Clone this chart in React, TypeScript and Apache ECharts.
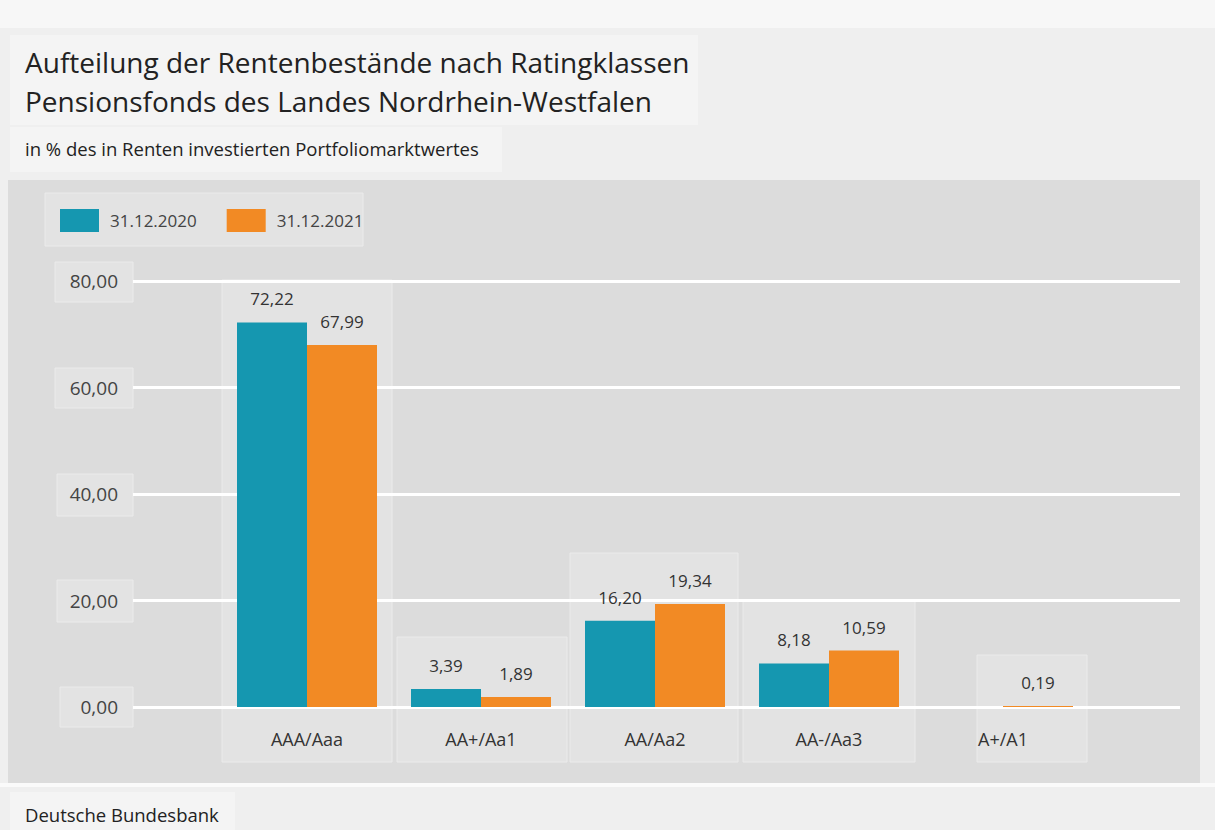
import React, { useEffect, useRef } from "react";
import * as echarts from "echarts";

const categories = ["AAA/Aaa", "AA+/Aa1", "AA/Aa2", "AA-/Aa3", "A+/A1"];
const series2020 = [72.22, 3.39, 16.2, 8.18, null];
const series2021 = [67.99, 1.89, 19.34, 10.59, 0.19];
const seriesNames = ["31.12.2020", "31.12.2021"];
const yTicks = [0, 20, 40, 60, 80];

const fmt = (v: number) => v.toFixed(2).replace(".", ",");
const FONT = "'Open Sans', 'Noto Sans', sans-serif";

const box = (x: number, y: number, w: number, h: number) => ({
  type: "rect",
  z: -5,
  shape: { x, y, width: w, height: h },
  style: { fill: "#e3e3e3", stroke: "#ebebeb", lineWidth: 1 },
});

export default function App() {
  const ref = useRef<HTMLDivElement>(null);
  useEffect(() => {
    document.body.style.margin = "0";
    const chart = echarts.init(ref.current!, null, { renderer: "svg" });
    const labelStyle = {
      show: true,
      position: "top" as const,
      distance: 15,
      fontSize: 17,
      color: "#333",
      fontFamily: FONT,
      formatter: (p: any) => (p.value == null ? "" : fmt(p.value)),
    };
    chart.setOption({
      animation: false,
      backgroundColor: "#efefef",
      textStyle: { fontFamily: FONT },
      graphic: [
        { type: "rect", z: -10, shape: { x: 0, y: 0, width: 1215, height: 28 }, style: { fill: "#f7f7f7" } },
        { type: "rect", z: -10, shape: { x: 10, y: 35, width: 688, height: 90 }, style: { fill: "#f4f4f4" } },
        { type: "rect", z: -10, shape: { x: 10, y: 127, width: 492, height: 45 }, style: { fill: "#f4f4f4" } },
        { type: "rect", z: -10, shape: { x: 8, y: 180, width: 1192, height: 603 }, style: { fill: "#dcdcdc" } },
        { type: "rect", z: -10, shape: { x: 0, y: 783, width: 1215, height: 4 }, style: { fill: "#fafafa" } },
        { type: "rect", z: -10, shape: { x: 10, y: 792, width: 225, height: 38 }, style: { fill: "#f4f4f4" } },
        box(45, 193, 318, 53),
        box(55, 262, 78, 40),
        box(55, 368, 78, 40),
        box(57, 474, 76, 42),
        box(57, 580, 76, 42),
        box(60, 687, 73, 40),
        box(222, 280, 170, 482),
        box(397, 637, 170, 125),
        box(570, 553, 168, 209),
        box(743, 601, 172, 161),
        box(977, 655, 110, 107),
      ],
      title: [
        {
          text: "Aufteilung der Rentenbestände nach Ratingklassen\nPensionsfonds des Landes Nordrhein-Westfalen",
          left: 25,
          top: 42,
          padding: 0,
          textStyle: { fontSize: 28, lineHeight: 39, fontWeight: "normal", color: "#222", fontFamily: FONT },
        },
        {
          text: "in % des in Renten investierten Portfoliomarktwertes",
          left: 25,
          top: 139,
          padding: 0,
          textStyle: { fontSize: 18.5, fontWeight: "normal", color: "#222", fontFamily: FONT },
        },
        {
          text: "Deutsche Bundesbank",
          left: 25,
          top: 805,
          padding: 0,
          textStyle: { fontSize: 18.5, fontWeight: "normal", color: "#222", fontFamily: FONT },
        },
      ],
      legend: {
        left: 60,
        top: 209,
        padding: 0,
        itemWidth: 39,
        itemHeight: 23,
        itemGap: 30,
        icon: "rect",
        data: seriesNames,
        textStyle: { fontSize: 17, color: "#444", fontFamily: FONT, padding: [0, 0, 0, 6] },
      },
      grid: [
        { left: 133, right: 35, top: 281, bottom: 123 },
        { left: 220, right: 125, top: 281, bottom: 123 },
      ],
      xAxis: [
        { type: "category", gridIndex: 0, data: categories, show: false },
        {
          type: "category",
          gridIndex: 1,
          data: categories,
          axisLine: { show: false },
          axisTick: { show: false },
          axisLabel: { fontSize: 18, color: "#333", margin: 23, fontFamily: FONT },
        },
      ],
      yAxis: [
        {
          type: "value",
          gridIndex: 0,
          min: yTicks[0],
          max: yTicks[yTicks.length - 1],
          interval: 20,
          axisLine: { show: false },
          axisTick: { show: false },
          axisLabel: { fontSize: 19, color: "#444", margin: 15, formatter: (v: number) => fmt(v), fontFamily: FONT },
          splitLine: { lineStyle: { color: "#ffffff", width: 3 } },
        },
        {
          type: "value",
          gridIndex: 1,
          min: yTicks[0],
          max: yTicks[yTicks.length - 1],
          interval: 20,
          show: false,
          splitLine: { show: false },
        },
      ],
      series: [
        {
          name: seriesNames[0],
          type: "bar",
          xAxisIndex: 1,
          yAxisIndex: 1,
          data: series2020,
          barWidth: 70,
          barGap: "0%",
          itemStyle: { color: "#1597b0" },
          label: labelStyle,
        },
        {
          name: seriesNames[1],
          type: "bar",
          xAxisIndex: 1,
          yAxisIndex: 1,
          data: series2021,
          barWidth: 70,
          barGap: "0%",
          itemStyle: { color: "#f28a24" },
          label: labelStyle,
        },
      ],
    });
    return () => chart.dispose();
  }, []);
  return <div ref={ref} style={{ width: 1215, height: 830 }} />;
}
